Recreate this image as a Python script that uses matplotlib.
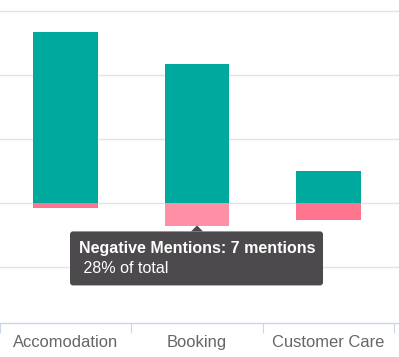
import matplotlib
matplotlib.use("Agg")
import matplotlib.pyplot as plt
from matplotlib.patches import FancyBboxPatch, Polygon
from matplotlib.transforms import IdentityTransform

categories = ["Accomodation", "Booking", "Customer Care"]
positive = [53.5, 43.5, 10]
negative = [-1.4, -7.3, -5.2]
tooltip_title = "Negative Mentions: 7 mentions"
tooltip_sub = " 28% of total"
hover_index = 1

W, H, DPI = 399, 357, 100
fig = plt.figure(figsize=(W / DPI, H / DPI), dpi=DPI)
fig.patch.set_facecolor("white")
ax = fig.add_axes([0, 34 / H, 1, 323 / H])
ax.set_facecolor("white")

x = list(range(len(categories)))
teal = "#00a99d"
pink = "#ff7590"
pink_hover = "#ff8fa4"
ax.bar(x, positive, width=0.49, color=teal, zorder=3, linewidth=0)
neg_colors = [pink_hover if i == hover_index else pink for i in x]
ax.bar(x, negative, width=0.49, color=neg_colors, zorder=3, linewidth=0)

ax.set_xlim(-0.4545, 2.538)
ax.set_ylim(-37.5, 63.5)
ax.set_yticks([-20, 0, 20, 40, 60])
ax.yaxis.grid(True, color="#e3e3e3", linewidth=1.0, zorder=0)
ax.tick_params(axis="y", length=0, labelleft=False)

ax.set_xticks(x)
ax.set_xticklabels(categories)
ax.set_xticks([-0.5, 0.5, 1.5, 2.5], minor=True)
ax.tick_params(axis="x", which="major", length=0, pad=8.5, labelsize=11.9, labelcolor="#666666")
ax.tick_params(axis="x", which="minor", length=7.0, width=0.8, color="#ccd6eb")
for lbl in ax.get_xticklabels():
    lbl.set_family(["Liberation Sans", "DejaVu Sans"])
for s in ["top", "left", "right"]:
    ax.spines[s].set_visible(False)
ax.spines["bottom"].set_color("#ccd6eb")
ax.spines["bottom"].set_linewidth(1.0)

# tooltip anchored at the hovered negative bar (pixel offsets)
fig.canvas.draw()
px, py = ax.transData.transform((hover_index, negative[hover_index]))
idt = IdentityTransform()
box = FancyBboxPatch((px - 127, py - 59), 253, 54,
                     boxstyle="round,pad=0,rounding_size=3",
                     facecolor="#4d4a4d", edgecolor="none", transform=idt, zorder=10)
fig.add_artist(box)
tri = Polygon([(px - 6, py - 5), (px + 6, py - 5), (px, py + 1)], closed=True,
              facecolor="#4d4a4d", edgecolor="none", transform=idt, zorder=10)
fig.add_artist(tri)
fig.text(px - 118, py - 22, tooltip_title, transform=idt, color="white",
         fontsize=11.5, fontweight="bold", va="center", ha="left",
         family=["Liberation Sans", "DejaVu Sans"], zorder=11)
fig.text(px - 118, py - 42, tooltip_sub, transform=idt, color="white",
         fontsize=11.5, va="center", ha="left",
         family=["Liberation Sans", "DejaVu Sans"], zorder=11)

fig.savefig("out.png", dpi=DPI)
